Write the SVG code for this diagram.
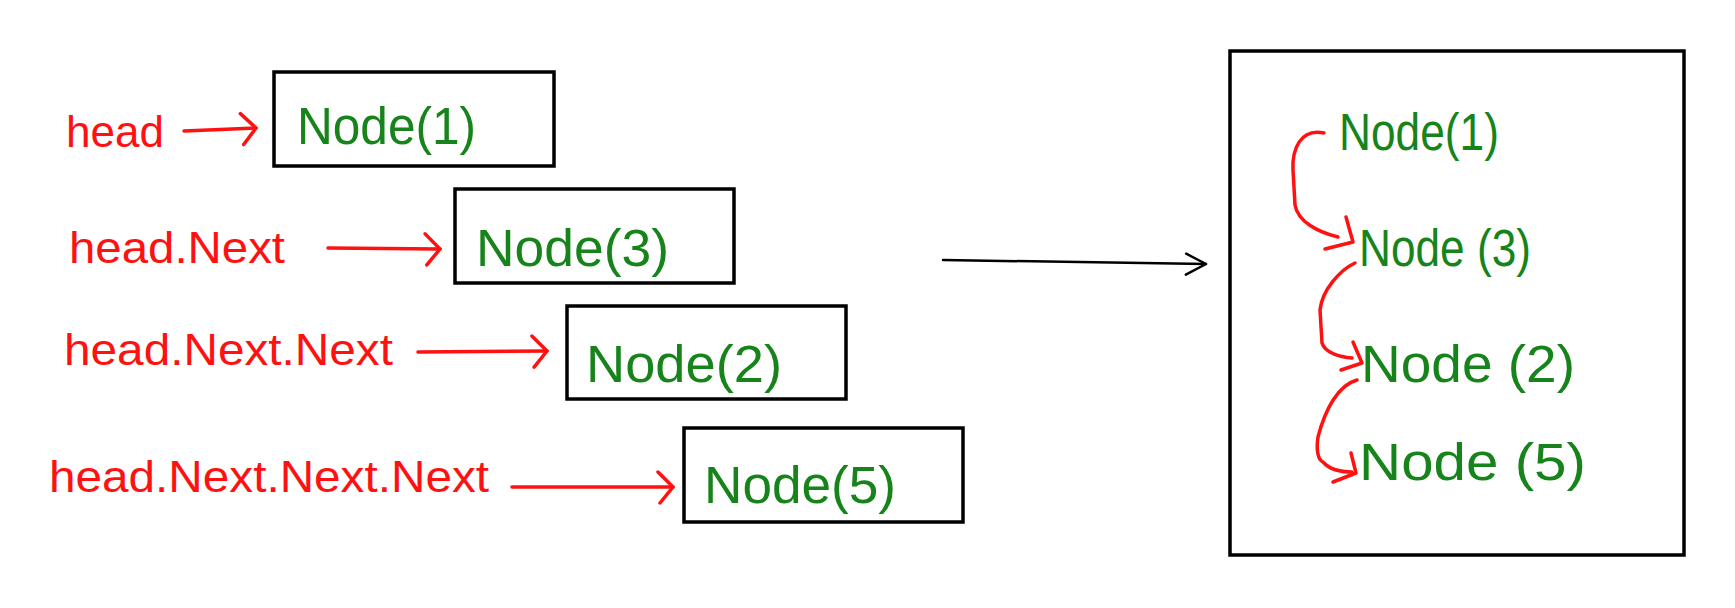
<svg xmlns="http://www.w3.org/2000/svg" width="1735" height="608" viewBox="0 0 1735 608">
<defs>
<style>
.box{fill:none;stroke:#000;stroke-width:3.5}
.lbl{font-family:"Liberation Sans",Arial,sans-serif;fill:#ff1111;font-size:45px}
.nd{font-family:"Liberation Sans",Arial,sans-serif;fill:#16841a;font-size:51px}
.red{fill:none;stroke:#ff1111;stroke-width:3.5;stroke-linecap:round;stroke-linejoin:round}
.blk{fill:none;stroke:#000;stroke-width:2.5;stroke-linecap:round;stroke-linejoin:round}
</style>
<marker id="chevR" viewBox="-18 -18 22 36" markerWidth="22" markerHeight="36" refX="0" refY="0" orient="auto" markerUnits="userSpaceOnUse">
<path d="M-15,-15 L0,0 L-13,16" fill="none" stroke="#ff1111" stroke-width="3.5" stroke-linecap="round" stroke-linejoin="round"/>
</marker>
<marker id="chevK" viewBox="-24 -14 28 28" markerWidth="28" markerHeight="28" refX="0" refY="0" orient="auto" markerUnits="userSpaceOnUse">
<path d="M-20,-10 L0,0 L-20,11" fill="none" stroke="#000" stroke-width="2.5" stroke-linecap="round" stroke-linejoin="round"/>
</marker>
</defs>

<g id="node-head">
<text class="lbl" x="66" y="147" textLength="98" lengthAdjust="spacingAndGlyphs">head</text>
</g>
<g id="node-head-next">
<text class="lbl" x="69" y="263" textLength="216" lengthAdjust="spacingAndGlyphs">head.Next</text>
</g>
<g id="node-head-next-next">
<text class="lbl" x="64" y="365" textLength="329" lengthAdjust="spacingAndGlyphs">head.Next.Next</text>
</g>
<g id="node-head-next-next-next">
<text class="lbl" x="49" y="492" textLength="440" lengthAdjust="spacingAndGlyphs">head.Next.Next.Next</text>
</g>

<g id="node-1">
<rect class="box" x="274" y="72" width="280" height="94"/>
<text class="nd" x="297" y="144" textLength="179" lengthAdjust="spacingAndGlyphs">Node(1)</text>
</g>
<g id="node-3">
<rect class="box" x="455" y="189" width="279" height="94"/>
<text class="nd" x="476" y="266" textLength="193" lengthAdjust="spacingAndGlyphs">Node(3)</text>
</g>
<g id="node-2">
<rect class="box" x="567" y="306" width="279" height="93"/>
<text class="nd" x="586" y="382" textLength="196" lengthAdjust="spacingAndGlyphs">Node(2)</text>
</g>
<g id="node-5">
<rect class="box" x="684" y="428" width="279" height="94"/>
<text class="nd" x="704" y="503" textLength="192" lengthAdjust="spacingAndGlyphs">Node(5)</text>
</g>

<g id="result-list">
<rect class="box" x="1230" y="51" width="454" height="504"/>
<text class="nd" x="1339" y="150" textLength="160" lengthAdjust="spacingAndGlyphs">Node(1)</text>
<text class="nd" x="1359" y="266" textLength="172" lengthAdjust="spacingAndGlyphs">Node (3)</text>
<text class="nd" x="1361" y="382" textLength="214" lengthAdjust="spacingAndGlyphs">Node (2)</text>
<text class="nd" x="1359" y="480" textLength="227" lengthAdjust="spacingAndGlyphs">Node (5)</text>
</g>

<g id="connectors">
<path class="red" d="M184,131 L256,128" marker-end="url(#chevR)"/>
<path class="red" d="M328,248 L440,249" marker-end="url(#chevR)"/>
<path class="red" d="M418,352 L547,351" marker-end="url(#chevR)"/>
<path class="red" d="M512,487 L673,487" marker-end="url(#chevR)"/>
<path class="blk" d="M943,260 L1206,264" marker-end="url(#chevK)"/>
<path class="red" d="M1324,133 C1300,128 1292,150 1293,170 L1295,205 C1298,222 1318,232 1338,237"/>
<polyline class="red" points="1346,217 1353,242 1325,249"/>
<path class="red" d="M1355,263 C1340,270 1322,290 1320,310 L1322,343 C1325,353 1340,357 1352,358"/>
<polyline class="red" points="1353,342 1362,363 1341,370"/>
<path class="red" d="M1357,380 C1338,385 1325,410 1318,437 C1316,450 1318,460 1323,462 C1330,470 1342,472 1352,472"/>
<polyline class="red" points="1351,453 1356,473 1333,482"/>
</g>
</svg>
